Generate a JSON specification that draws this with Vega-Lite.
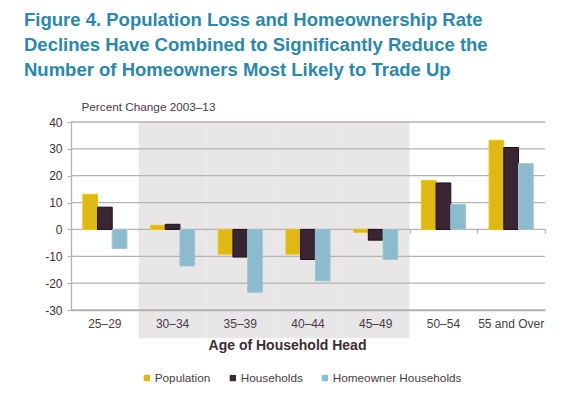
{
  "$schema": "https://vega.github.io/schema/vega-lite/v6.json",
  "width": 474,
  "height": 188,
  "autosize": {"type": "none"},
  "padding": {"left": 71, "top": 122, "right": 31, "bottom": 85},
  "background": "white",
  "config": {
    "view": {"stroke": null},
    "font": "Liberation Sans",
    "axisY": {"labelOverlap": false, "labelBound": false, "values": [-30, -20, -10, 0, 10, 20, 30, 40]}
  },
  "title": {
    "text": ["Figure 4. Population Loss and Homeownership Rate", "Declines Have Combined to Significantly Reduce the", "Number of Homeowners Most Likely to Trade Up"],
    "font": "Liberation Sans",
    "fontSize": 18.5,
    "fontWeight": "bold",
    "color": "#2b87ac",
    "anchor": "start",
    "frame": "group",
    "dx": -47,
    "offset": 22,
    "lineHeight": 25
  },
  "datasets": {
    "bars": [
      {"age": "25–29", "series": "Population", "value": 13.1},
      {"age": "25–29", "series": "Households", "value": 8.3},
      {"age": "25–29", "series": "Homeowner Households", "value": -7.1},
      {"age": "30–34", "series": "Population", "value": 1.5},
      {"age": "30–34", "series": "Households", "value": 1.9},
      {"age": "30–34", "series": "Homeowner Households", "value": -13.6},
      {"age": "35–39", "series": "Population", "value": -9.2},
      {"age": "35–39", "series": "Households", "value": -10.3},
      {"age": "35–39", "series": "Homeowner Households", "value": -23.4},
      {"age": "40–44", "series": "Population", "value": -9.2},
      {"age": "40–44", "series": "Households", "value": -11.2},
      {"age": "40–44", "series": "Homeowner Households", "value": -19.1},
      {"age": "45–49", "series": "Population", "value": -1.1},
      {"age": "45–49", "series": "Households", "value": -4.0},
      {"age": "45–49", "series": "Homeowner Households", "value": -11.2},
      {"age": "50–54", "series": "Population", "value": 18.2},
      {"age": "50–54", "series": "Households", "value": 17.3},
      {"age": "50–54", "series": "Homeowner Households", "value": 9.3},
      {"age": "55 and Over", "series": "Population", "value": 33.2},
      {"age": "55 and Over", "series": "Households", "value": 30.5},
      {"age": "55 and Over", "series": "Homeowner Households", "value": 24.5}
    ],
    "band": [
      {"age": "30–34"},
      {"age": "35–39"},
      {"age": "40–44"},
      {"age": "45–49"}
    ],
    "grid": [
      {"v": -30}, {"v": -20}, {"v": -10}, {"v": 0}, {"v": 10}, {"v": 20}, {"v": 30}, {"v": 40}
    ]
  },
  "layer": [
    {
      "data": {"name": "band"},
      "mark": {"type": "rect", "color": "#e8e6e7", "clip": false},
      "encoding": {
        "x": {
          "field": "age",
          "type": "nominal",
          "sort": ["25–29", "30–34", "35–39", "40–44", "45–49", "50–54", "55 and Over"],
          "scale": {"domain": ["25–29", "30–34", "35–39", "40–44", "45–49", "50–54", "55 and Over"], "paddingInner": 0, "paddingOuter": 0},
          "axis": {
            "orient": "bottom",
            "title": "Age of Household Head",
            "titleFont": "Liberation Sans",
            "titleFontSize": 14,
            "titleFontWeight": "bold",
            "titleColor": "#3a2d36",
            "titlePadding": 9,
            "titleX": 216,
            "titleAlign": "center",
            "labelAngle": 0,
            "labelFont": "Liberation Sans",
            "labelFontSize": 12,
            "labelColor": "#4a3c45",
            "labelPadding": 8,
            "ticks": false,
            "tickSize": 0,
            "domain": true,
            "domainColor": "#b5b2b3",
            "domainWidth": 1.3,
            "grid": false,
            "zindex": 1
          }
        },
        "y": {
          "datum": 40,
          "type": "quantitative",
          "scale": {"domain": [-30, 40], "nice": false, "zero": false},
          "axis": {
            "values": [-30, -20, -10, 0, 10, 20, 30, 40],
            "labelExpr": "'' + datum.value",
            "labelOverlap": false,
            "labelBound": false,
            "labelFont": "Liberation Sans",
            "labelFontSize": 12,
            "labelColor": "#3d3035",
            "labelPadding": 5,
            "tickSize": 4,
            "tickColor": "#b5b2b3",
            "domainColor": "#b5b2b3",
            "domainWidth": 1.3,
            "grid": false,
            "title": "Percent Change 2003–13",
            "titleAngle": 0,
            "titleAlign": "left",
            "titleBaseline": "alphabetic",
            "titleX": 10,
            "titleY": -12,
            "titleFont": "Liberation Sans",
            "titleFontSize": 11.75,
            "titleFontWeight": "normal",
            "titleColor": "#4a3a48",
            "zindex": 1
          }
        },
        "y2": {"datum": -40.5}
      }
    },
    {
      "data": {"name": "grid"},
      "mark": {"type": "rule", "color": "#b5b2b3", "strokeWidth": 1.3},
      "encoding": {
        "y": {"field": "v", "type": "quantitative", "axis": {"values": [-30, -20, -10, 0, 10, 20, 30, 40], "labelOverlap": false}}
      }
    },
    {
      "data": {"name": "bars"},
      "mark": {"type": "bar", "strokeWidth": 1},
      "encoding": {
        "x": {
          "field": "age",
          "type": "nominal",
          "sort": ["25–29", "30–34", "35–39", "40–44", "45–49", "50–54", "55 and Over"],
          "axis": {
            "orient": "bottom",
            "offset": -81,
            "labels": false,
            "domain": false,
            "grid": false,
            "ticks": true,
            "tickBand": "extent",
            "tickSize": 4,
            "tickColor": "#b5b2b3",
            "tickWidth": 1.3,
            "title": null
          }
        },
        "xOffset": {
          "field": "series",
          "type": "nominal",
          "sort": ["Population", "Households", "Homeowner Households"],
          "scale": {"paddingInner": 0, "paddingOuter": 0.8}
        },
        "y": {"field": "value", "type": "quantitative", "axis": {"values": [-30, -20, -10, 0, 10, 20, 30, 40], "labelOverlap": false}},
        "color": {
          "field": "series",
          "type": "nominal",
          "sort": ["Population", "Households", "Homeowner Households"],
          "scale": {"domain": ["Population", "Households", "Homeowner Households"], "range": ["#e0b816", "#3a2535", "#8bbbcc"]},
          "legend": {
            "title": null,
            "orient": "none",
            "legendX": 70,
            "legendY": 250,
            "direction": "horizontal",
            "symbolType": "square",
            "symbolSize": 40,
            "symbolStrokeWidth": 0,
            "labelFont": "Liberation Sans",
            "labelFontSize": 11.75,
            "labelColor": "#4a3c45",
            "labelOffset": 2,
            "columnPadding": 16
          }
        },
        "stroke": {
          "field": "series",
          "type": "nominal",
          "scale": {"domain": ["Population", "Households", "Homeowner Households"], "range": ["#efc60c", "#1c1119", "#9cc6d4"]},
          "legend": null
        }
      }
    }
  ],
  "resolve": {"scale": {"x": "shared", "y": "shared"}, "axis": {"x": "independent"}}
}
